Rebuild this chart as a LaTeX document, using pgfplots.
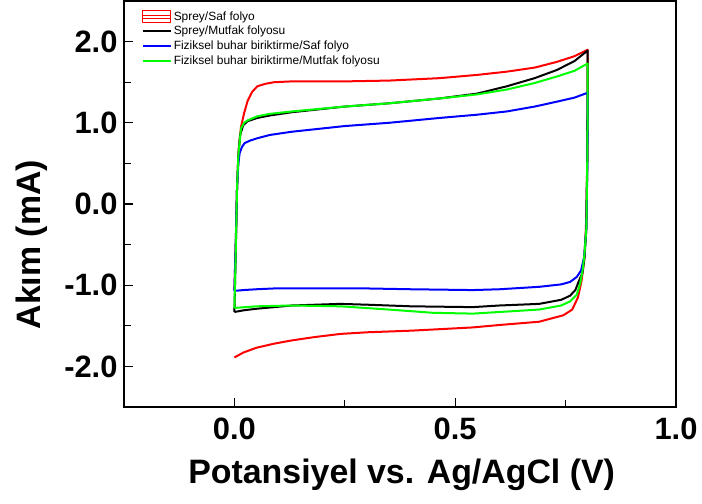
\documentclass[border=0pt]{standalone}
\usepackage{pgfplots}
\pgfplotsset{compat=1.18}
\usepackage{fontspec}
\setmainfont{Liberation Sans}
\begin{document}
\begin{tikzpicture}
\begin{axis}[
  scale only axis,
  width=552bp, height=406bp,
  xmin=-0.25, xmax=1.0, ymin=-2.5, ymax=2.5,
  xtick={0,0.5,1.0}, minor xtick={0.25,0.75},
  ytick={-2,-1,0,1,2}, minor ytick={-1.5,-0.5,0.5,1.5},
  xtick pos=bottom, ytick pos=left,
  tick align=inside,
  major tick length=9bp, minor tick length=7bp,
  axis line style={line width=1.6bp},
  every tick/.style={black, line width=1.2bp},
  /pgf/number format/assume math mode=true,
  /pgf/number format/.cd, fixed, fixed zerofill, precision=1, /pgfplots/.cd,
  ticklabel style={font=\bfseries\fontsize{31}{31}\selectfont},
  xticklabel style={yshift=-7bp},
  yticklabel style={xshift=-3bp},
  xlabel={Potansiyel vs. Ag/AgCl (V)},
  ylabel={Akım (mA)},
  label style={font=\bfseries\fontsize{34}{34}\selectfont},
  xlabel style={at={(axis description cs:0.503,-0.168)}, anchor=center},
  ylabel style={at={(axis description cs:-0.167,0.40)}, anchor=center},
  legend style={at={(axis description cs:0.03,0.982)}, anchor=north west, draw=none, fill=none,
    font=\fontsize{12}{14}\selectfont, row sep=0.5bp, inner sep=1bp},
  legend cell align=left,
  legend image code/.code={\draw[#1, line width=2bp] (0bp,0bp) -- (28bp,0bp);},
  every axis plot/.append style={line width=2bp, line join=round},
]
\addplot[red, legend image code/.code={\draw[red, line width=0.9bp] (0bp,-6bp) rectangle (28bp,6bp); \draw[red, line width=0.9bp] (0bp,-1.5bp) rectangle (28bp,1.5bp);}] coordinates {
(0,-1.05) (0.003,-0.5) (0.006,0.2) (0.01,0.7) (0.015,0.95) (0.022,1.12) (0.03,1.27) (0.04,1.38) (0.052,1.45) (0.07,1.48) (0.09,1.50) (0.13,1.51) (0.25,1.51) (0.35,1.52) (0.465,1.55) (0.55,1.59) (0.617,1.63) (0.68,1.68) (0.73,1.75) (0.77,1.82) (0.8,1.90)
(0.8,1.5) (0.799,0.5) (0.796,-0.3) (0.792,-0.7) (0.786,-0.95) (0.778,-1.15) (0.765,-1.3) (0.745,-1.37) (0.69,-1.45) (0.6,-1.49) (0.54,-1.52) (0.4,-1.56) (0.3,-1.58) (0.24,-1.60) (0.18,-1.64) (0.13,-1.68) (0.09,-1.72) (0.05,-1.77) (0.02,-1.83) (0,-1.89)
};
\addlegendentry{Sprey/Saf folyo}
\addplot[black] coordinates {
(0,-1.33) (0.003,-0.6) (0.006,0.2) (0.009,0.6) (0.013,0.85) (0.02,0.97) (0.03,1.02) (0.052,1.06) (0.08,1.09) (0.13,1.13) (0.25,1.20) (0.35,1.24) (0.465,1.30) (0.55,1.36) (0.617,1.45) (0.68,1.55) (0.73,1.65) (0.77,1.76) (0.8,1.89)
(0.8,1.4) (0.799,0.5) (0.797,-0.3) (0.793,-0.65) (0.788,-0.85) (0.78,-0.95) (0.772,-1.06) (0.76,-1.13) (0.74,-1.18) (0.69,-1.23) (0.6,-1.25) (0.54,-1.27) (0.4,-1.26) (0.3,-1.24) (0.24,-1.23) (0.13,-1.25) (0.09,-1.27) (0.05,-1.29) (0.02,-1.31) (0,-1.33)
};
\addlegendentry{Sprey/Mutfak folyosu}
\addplot[blue] coordinates {
(0,-1.07) (0.003,-0.5) (0.006,0.2) (0.009,0.5) (0.012,0.63) (0.017,0.70) (0.023,0.75) (0.035,0.78) (0.052,0.81) (0.08,0.85) (0.13,0.89) (0.25,0.96) (0.35,1.0) (0.465,1.06) (0.55,1.10) (0.617,1.14) (0.68,1.2) (0.73,1.26) (0.77,1.31) (0.8,1.37)
(0.8,1.0) (0.799,0.4) (0.797,-0.3) (0.792,-0.65) (0.785,-0.82) (0.775,-0.9) (0.76,-0.96) (0.74,-0.99) (0.69,-1.02) (0.6,-1.05) (0.54,-1.06) (0.4,-1.05) (0.3,-1.04) (0.24,-1.04) (0.13,-1.04) (0.09,-1.04) (0.05,-1.05) (0.02,-1.06) (0,-1.07)
};
\addlegendentry{Fiziksel buhar biriktirme/Saf folyo}
\addplot[green] coordinates {
(0,-1.28) (0.003,-0.6) (0.006,0.2) (0.009,0.6) (0.011,0.72) (0.015,0.93) (0.022,1.0) (0.03,1.03) (0.052,1.08) (0.08,1.11) (0.13,1.14) (0.25,1.20) (0.35,1.24) (0.465,1.30) (0.55,1.35) (0.617,1.41) (0.68,1.49) (0.73,1.57) (0.77,1.64) (0.8,1.73)
(0.8,1.2) (0.799,0.5) (0.797,-0.3) (0.793,-0.6) (0.789,-0.8) (0.783,-0.98) (0.775,-1.12) (0.76,-1.2) (0.74,-1.25) (0.69,-1.30) (0.6,-1.33) (0.54,-1.35) (0.45,-1.34) (0.35,-1.30) (0.24,-1.26) (0.13,-1.25) (0.05,-1.26) (0,-1.28)
};
\addlegendentry{Fiziksel buhar biriktirme/Mutfak folyosu}
\end{axis}
\pgfresetboundingbox
\useasboundingbox (current axis.south west) ++(-124bp,-97bp) rectangle ++(702bp,504bp);
\end{tikzpicture}
\end{document}
